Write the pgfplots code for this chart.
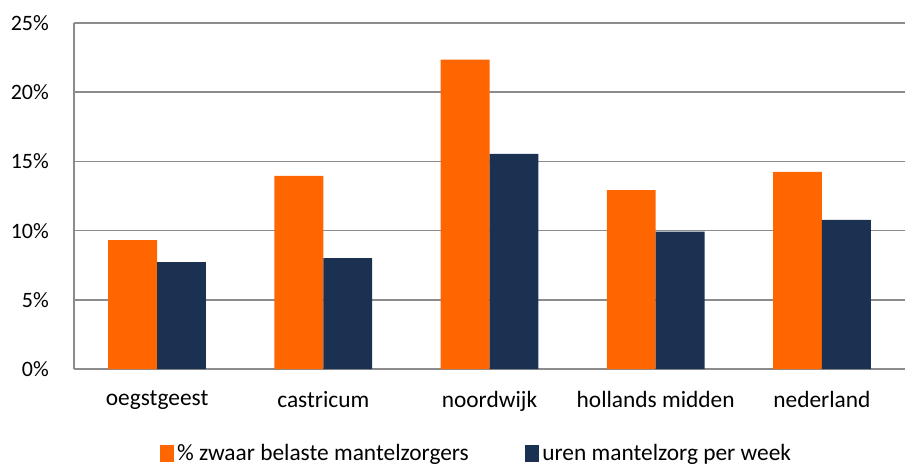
\documentclass[border=0pt]{standalone}
\usepackage{pgfplots}
\pgfplotsset{compat=1.18}
\usepackage{fontspec}
\setmainfont{Carlito}
\definecolor{zwaar}{HTML}{FF6600}
\definecolor{uren}{HTML}{1A3151}
\definecolor{gridgrey}{HTML}{8C8C8C}

\begin{document}
\begin{tikzpicture}[font=\fontsize{12.5}{14}\selectfont]
\begin{axis}[
  scale only axis,
  width=16.62cm, height=6.92cm,
  ybar=0pt, bar width=0.294,
  xmin=-0.5, xmax=4.5,
  ymin=0, ymax=25,
  xtick={0,1,2,3,4},
  xticklabels={oegstgeest, castricum, noordwijk, hollands midden, nederland},
  ytick={0,5,10,15,20,25},
  yticklabel={\pgfmathprintnumber{\tick}\%},
  /pgf/number format/assume math mode=true,
  major x tick style={draw=none},
  major y tick style={draw=none},
  ymajorgrids, grid style={gridgrey, line width=0.8pt},
  axis x line*=bottom, axis y line*=left,
  axis line style={gridgrey, line width=0.8pt},
  xticklabel style={yshift=-0.17cm, font=\fontsize{13.3}{15}\selectfont},
  yticklabel style={xshift=-0.38cm},
  legend style={at={(0.485,-0.195)}, anchor=north, draw=none, legend columns=2,
    font=\fontsize{13.3}{15}\selectfont,
    /tikz/every even column/.append style={column sep=1.05cm}},
  legend image code/.code={\fill[#1] (0cm,-0.17cm) rectangle (0.28cm,0.17cm);},
]
\addplot[fill=zwaar, draw=none] coordinates {(0,9.32) (1,13.96) (2,22.36) (3,12.92) (4,14.25)};
\addplot[fill=uren, draw=none] coordinates {(0,7.72) (1,8.01) (2,15.55) (3,9.93) (4,10.77)};
\legend{\% zwaar belaste mantelzorgers, uren mantelzorg per week}
\end{axis}
\pgfresetboundingbox
\path ([shift={(-1.48cm,-1.95cm)}]current axis.south west) rectangle ([shift={(0,0.46cm)}]current axis.north east);
\end{tikzpicture}
\end{document}
